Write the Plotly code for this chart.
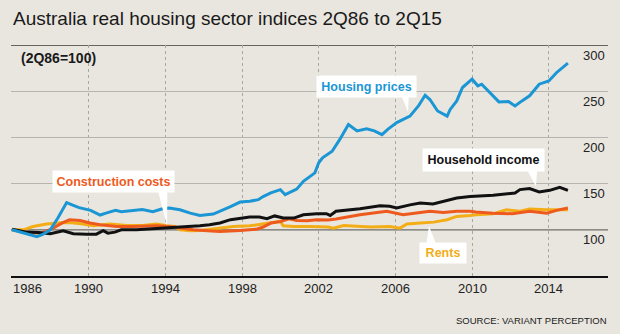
import plotly.graph_objects as go

# ---------------- data ----------------
hp_t = [1986.0, 1986.5, 1987.0, 1987.3, 1987.6, 1988.0, 1988.4, 1988.85, 1989.2, 1989.5,
        1990.1, 1990.6, 1990.9, 1991.4, 1991.7, 1992.2, 1992.5, 1992.8, 1993.35, 1993.8,
        1994.2, 1994.76, 1995.3, 1995.8, 1996.5, 1996.85, 1997.4, 1997.9, 1998.4, 1998.85,
        1999.1, 1999.5, 2000.0, 2000.25, 2000.85, 2001.2, 2001.55, 2001.8, 2002.0, 2002.2,
        2002.7, 2003.1, 2003.55, 2004.0, 2004.5, 2004.9, 2005.3, 2005.6, 2006.07, 2006.76,
        2007.2, 2007.55, 2007.8, 2008.2, 2008.7, 2008.85, 2009.2, 2009.5, 2010.0, 2010.3,
        2010.5, 2010.9, 2011.4, 2011.9, 2012.24, 2012.6, 2013.0, 2013.5, 2014.0, 2014.4, 2015.0]
hp_v = [100, 97, 94, 92.5, 95, 100, 113, 129.5, 126.5, 124,
        121, 116, 118, 121, 119.5, 120.5, 121, 122, 119.6, 122.5,
        123.5, 121.7, 118, 115.6, 117, 120, 125, 130, 130.8, 132.6,
        136, 140, 143.5, 138, 144, 152.5, 158, 161.6, 172.5, 178,
        185, 197.8, 214, 207, 209.4, 207, 203, 208.7, 216, 223,
        234, 245.6, 241, 228.6, 223, 230, 239.5, 254, 263, 255.8,
        257.6, 248.6, 238.4, 238.8, 234, 239.5, 245, 257.6, 261, 270, 280.4]

hi_t = [1986.0, 1986.76, 1987.37, 1988.0, 1988.67, 1989.2, 1989.9, 1990.4, 1990.76, 1991.0,
        1991.37, 1991.7, 1992.5, 1993.36, 1994.2, 1994.76, 1995.8, 1996.3, 1996.85, 1997.4,
        1997.9, 1998.4, 1998.9, 1999.3, 1999.7, 2000.15, 2000.7, 2001.2, 2001.9, 2002.4,
        2002.6, 2002.9, 2004.15, 2005.2, 2005.7, 2006.07, 2006.76, 2007.3, 2007.96, 2008.85,
        2009.2, 2009.9, 2011.1, 2012.24, 2012.5, 2013.0, 2013.5, 2014.05, 2014.57, 2015.0]
hi_v = [100.7, 97.5, 97, 95.7, 99, 95.7, 95.3, 95.3, 99, 96.4,
        97.5, 100, 100, 101, 102.5, 103, 104.3, 105.4, 107.3, 111,
        112.7, 113.8, 113.8, 112, 115, 112.7, 112.7, 116.3, 117.4, 117.4,
        115.5, 120, 122.8, 126, 125.4, 123.6, 127, 129, 128, 132.6,
        134.4, 136, 137.3, 139.9, 143.5, 144.6, 141, 142.7, 146, 142.7]

cc_t = [1986.0, 1986.76, 1987.55, 1988.15, 1988.6, 1989.0, 1989.55, 1990.07, 1990.6, 1991.46,
        1992.33, 1993.55, 1994.2, 1994.76, 1995.46, 1996.2, 1996.85, 1997.9, 1998.76, 1999.1,
        1999.5, 2000.0, 2000.45, 2000.85, 2001.4, 2001.9, 2002.5, 2002.9, 2004.15, 2005.55,
        2006.4, 2007.3, 2007.8, 2008.5, 2009.2, 2009.9, 2010.2, 2011.1, 2012.1, 2013.0,
        2013.9, 2014.4, 2015.0]
cc_v = [100, 97, 96.4, 101.8, 107.2, 110.8, 110, 107.3, 105.4, 103.6,
        103.6, 104.3, 103.6, 101.8, 100, 99, 98.2, 99.3, 100.7, 103,
        107.3, 109, 112, 110, 109.8, 110.9, 110.5, 111.6, 116.3, 120,
        116.3, 118.8, 120, 118.8, 120, 120, 119.2, 118, 117.4, 120,
        118, 121, 123.6]

re_t = [1986.0, 1986.6, 1987.1, 1987.8, 1988.4, 1989.0, 1989.7, 1990.24, 1991.1, 1992.0,
        1992.8, 1993.55, 1994.07, 1994.5, 1994.76, 1995.3, 1995.8, 1996.85, 1997.55, 1998.4,
        1999.3, 2000.0, 2000.15, 2000.7, 2001.55, 2002.5, 2002.76, 2003.3, 2004.7, 2005.7,
        2006.24, 2006.6, 2007.3, 2008.0, 2008.7, 2009.2, 2009.9, 2010.2, 2011.1, 2011.8,
        2012.5, 2013.0, 2013.9, 2014.4, 2015.0]
re_v = [100, 100, 103.6, 106.2, 107.3, 108, 106.2, 104.3, 106.2, 104.7,
        104.7, 106.2, 104.3, 103.6, 100, 99, 99.3, 101.8, 103.6, 104.3,
        106.5, 109, 104.3, 103.6, 103.6, 103, 101.8, 104.7, 103, 103.6,
        101.8, 106.2, 107.3, 108.3, 110.9, 114.5, 115.6, 116.3, 117.4, 121.7,
        120, 122.5, 121.7, 121.7, 121.7]

x_ticks = [1986, 1990, 1994, 1998, 2002, 2006, 2010, 2014]
y_ticks = [100, 150, 200, 250, 300]

TITLE = "Australia real housing sector indices 2Q86 to 2Q15"
SUBTITLE = "(2Q86=100)"
SOURCE = "SOURCE: VARIANT PERCEPTION"

BLUE = "#1b96d5"
ORANGE = "#ee5a1d"
GOLD = "#f3ad17"
BLACK = "#111111"
BG = "#e9e6df"
FONT = "Liberation Sans, Arial, sans-serif"

# callouts: label, colour, box centre (year, value), box size px, pointer base/tip (year, value)
callouts = [
    dict(text="Housing prices", color=BLUE, x=2004.47, y=255.6, w=99, h=21,
         wedge=[(2006.30, 245.5), (2006.70, 245.5), (2006.66, 227.5)]),
    dict(text="Household income", color=BLACK, x=2010.57, y=176.0, w=121, h=22,
         wedge=[(2012.85, 165.5), (2013.40, 165.5), (2013.33, 147.0)]),
    dict(text="Construction costs", color=ORANGE, x=1991.30, y=152.2, w=121, h=21,
         wedge=[(1993.62, 141.8), (1994.10, 141.8), (1994.09, 104.0)]),
    dict(text="Rents", color=GOLD, x=2008.48, y=75.0, w=46, h=20,
         wedge=[(2007.62, 84.5), (2008.12, 84.5), (2007.75, 104.0)]),
]

fig = go.Figure()
for t, v, c, name in [(re_t, re_v, GOLD, "Rents"),
                      (cc_t, cc_v, ORANGE, "Construction costs"),
                      (hi_t, hi_v, BLACK, "Household income"),
                      (hp_t, hp_v, BLUE, "Housing prices")]:
    fig.add_trace(go.Scatter(x=t, y=v, mode="lines", name=name,
                             line=dict(color=c, width=3), hoverinfo="skip"))

shapes = []
# top rule at 300 and darker base line at 100
shapes.append(dict(type="line", xref="paper", x0=0, x1=1, yref="y", y0=300, y1=300,
                   line=dict(color="#3a3a3a", width=1.3), layer="below"))
shapes.append(dict(type="line", xref="paper", x0=0, x1=1, yref="y", y0=100, y1=100,
                   line=dict(color="#6e6c68", width=1.3), layer="below"))
annotations = []
for c in callouts:
    pts = c["wedge"]
    path = "M {} {} L {} {} L {} {} Z".format(pts[0][0], pts[0][1], pts[1][0], pts[1][1],
                                            pts[2][0], pts[2][1])
    shapes.append(dict(type="path", path=path, xref="x", yref="y", fillcolor="white",
                       line=dict(width=0), layer="above"))
    annotations.append(dict(x=c["x"], y=c["y"], xref="x", yref="y", text="<b>%s</b>" % c["text"],
                            showarrow=False, bgcolor="white", width=c["w"], height=c["h"],
                            borderpad=0, align="center", valign="middle",
                            font=dict(family=FONT, size=12.5, color=c["color"])))

# y tick labels (right, below gridline)
for v in y_ticks:
    annotations.append(dict(x=1, xref="paper", y=v, yref="y", text=str(v), showarrow=False,
                            xanchor="right", yanchor="middle", yshift=-10, xshift=-1,
                            font=dict(family=FONT, size=13, color="#222")))
# x tick labels
for i, yr in enumerate(x_ticks):
    annotations.append(dict(x=yr, xref="x", y=0, yref="paper", text=str(yr), showarrow=False,
                            xanchor="left" if i == 0 else "center", yanchor="middle", yshift=-12,
                            xshift=-1 if i == 0 else 0,
                            font=dict(family=FONT, size=13, color="#222")))

plot_h = 334 - 45 - 58
annotations.append(dict(x=0, xref="paper", y=1 + (45 - 18) / plot_h, yref="paper",
                        yanchor="middle", xanchor="left", text=TITLE, showarrow=False,
                        font=dict(family=FONT, size=19, color="#1a1a1a")))
annotations.append(dict(x=0, xref="paper", xshift=8, y=300, yref="y", yshift=-13,
                        yanchor="middle", xanchor="left", text="<b>%s</b>" % SUBTITLE,
                        showarrow=False, font=dict(family=FONT, size=14, color="#1a1a1a")))
annotations.append(dict(x=1, xref="paper", xshift=1, y=0, yref="paper", yshift=-44,
                        yanchor="middle", xanchor="right", text=SOURCE, showarrow=False,
                        font=dict(family=FONT, size=9.5, color="#1a1a1a")))

fig.update_layout(
    width=620, height=334,
    margin=dict(l=11, r=12, t=45, b=58),
    paper_bgcolor=BG, plot_bgcolor=BG,
    showlegend=False,
    shapes=shapes, annotations=annotations,
    xaxis=dict(range=[1985.948, 2017.09], tickvals=x_ticks, showticklabels=False,
               showgrid=True, gridcolor="#a9a7a1", gridwidth=1, griddash="dot",
               zeroline=False, showline=True, linecolor="#111", linewidth=2, ticks=""),
    yaxis=dict(range=[50, 300], tickvals=[150, 200, 250], showticklabels=False,
               showgrid=True, gridcolor="#b6b4ae", gridwidth=1.3, zeroline=False,
               showline=False, ticks=""),
)

fig.write_html("out.html")
